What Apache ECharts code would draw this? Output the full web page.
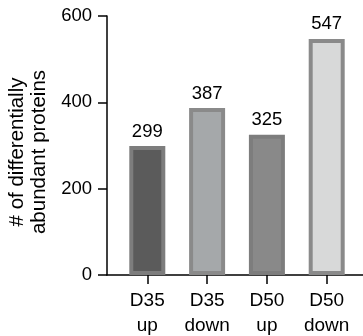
<!DOCTYPE html>
<html><head><meta charset="utf-8">
<script src="https://cdn.jsdelivr.net/npm/echarts@6/dist/echarts.min.js"></script>
<style>html,body{margin:0;padding:0;background:#fff}#c{width:363px;height:336px}</style>
</head><body><div id="c"></div>
<script>
var categories = ['D35\nup', 'D35\ndown', 'D50\nup', 'D50\ndown'];
var values = [299, 387, 325, 547];
var fillColors = ['#5b5b5b', '#a5a8aa', '#898989', '#d8d9d9'];
var borderColors = ['#7d7d7d', '#8a8a8a', '#7d7d7d', '#8a8a8a'];
var yTicks = [0, 200, 400, 600];
var yTitle = '# of differentially\nabundant proteins';

var chart = echarts.init(document.getElementById('c'), null, {renderer: 'canvas'});
var font = 'Liberation Sans, Arial, sans-serif';
chart.setOption({
  animation: false,
  grid: [
    {left: 117.4, right: 6.4, top: 16, bottom: 61, containLabel: false, outerBoundsMode: 'none'},
    {left: 107, right: 0, top: 16, bottom: 61, containLabel: false, outerBoundsMode: 'none'}
  ],
  xAxis: [
    {type: 'category', gridIndex: 0, data: categories,
     axisLine: {show: false},
     axisTick: {show: true, alignWithLabel: true, length: 9, lineStyle: {color: '#000', width: 1.5}},
     axisLabel: {color: '#000', fontSize: 19, fontFamily: font, margin: 13.5, lineHeight: 25, interval: 0}},
    {type: 'value', gridIndex: 1, min: 0, max: 1,
     axisLine: {show: true, lineStyle: {color: '#000', width: 1.5}},
     axisTick: {show: false}, axisLabel: {show: false}, splitLine: {show: false}}
  ],
  yAxis: [
    {type: 'value', gridIndex: 0, min: yTicks[0], max: yTicks[yTicks.length - 1], interval: 200, offset: 10.4,
     axisLine: {show: true, lineStyle: {color: '#000', width: 1.5}},
     axisTick: {show: true, length: 9, lineStyle: {color: '#000', width: 1.5}},
     axisLabel: {color: '#000', fontSize: 18.5, fontFamily: font, margin: 15},
     splitLine: {show: false},
     name: yTitle, nameLocation: 'middle', nameGap: 56,
     nameTextStyle: {color: '#000', fontSize: 20.5, fontFamily: font, lineHeight: 22, padding: [0, 13, 0, 0]}},
    {type: 'value', gridIndex: 1, show: false, min: 0, max: 1}
  ],
  series: [{
    type: 'bar', xAxisIndex: 0, yAxisIndex: 0, barWidth: 36,
    data: values.map(function (v, i) {
      return {value: v, itemStyle: {color: fillColors[i], borderColor: borderColors[i], borderWidth: 4}};
    }),
    label: {show: true, position: 'top', distance: 5, color: '#000', fontSize: 18.5, fontFamily: font}
  }]
});
</script></body></html>
